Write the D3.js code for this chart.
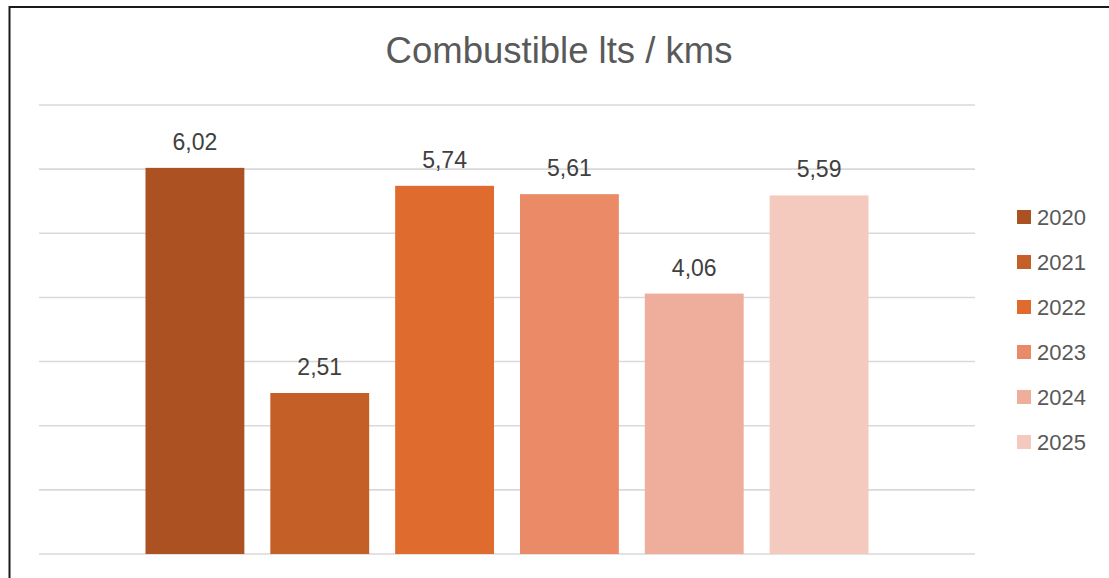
<!DOCTYPE html>
<html>
<head>
<meta charset="utf-8">
<script src="https://cdn.jsdelivr.net/npm/d3@7"></script>
<style>
  html, body { margin: 0; padding: 0; background: #fff; }
  svg { display: block; font-family: "Liberation Sans", Arial, sans-serif; }
</style>
</head>
<body>
<div id="chart"></div>
<script>
// ======================= //
// DATA
// ======================= //
var years = ["2020", "2021", "2022", "2023", "2024", "2025"]
var values = [6.02, 2.51, 5.74, 5.61, 4.06, 5.59]
var colors = ["#AC5122", "#C55F28", "#DF6B2F", "#EB8A67", "#EFAE9B", "#F4CABE"]
var yTicks = [0, 1, 2, 3, 4, 5, 6, 7]
var title = "Combustible lts / kms"

// ======================= //
// SVG AREA
// ======================= //
var W = 1109, H = 578
var plot = {left: 39, right: 975, top: 105, bottom: 554}

var svg = d3.select("#chart")
  .append("svg")
    .attr("width", W)
    .attr("height", H)

// chart frame (only top and left edges are inside the picture)
svg.append("rect")
  .attr("x", 9.5).attr("y", 7)
  .attr("width", W + 20).attr("height", H + 20)
  .style("fill", "white")
  .style("stroke", "#1a1a1a")
  .style("stroke-width", 2)

// ======================= //
// SCALES
// ======================= //
var x = d3.scaleBand()
  .domain(years)
  .range([plot.left, plot.right])
  .paddingInner(0.208)
  .paddingOuter(0.853)

var y = d3.scaleLinear()
  .domain([0, 7])
  .range([plot.bottom, plot.top])

// gridlines
svg.append("g")
  .selectAll("line")
  .data(yTicks)
  .enter()
  .append("line")
    .attr("x1", plot.left)
    .attr("x2", plot.right)
    .attr("y1", function(d){ return y(d) })
    .attr("y2", function(d){ return y(d) })
    .style("stroke", "#D9D9D9")
    .style("stroke-width", 1.6)

// title
svg.append("text")
  .attr("x", 559)
  .attr("y", 63)
  .attr("text-anchor", "middle")
  .style("font-size", "36.5px")
  .style("fill", "#595959")
  .text(title)

// ======================= //
// BARS
// ======================= //
var data = years.map(function(d, i){ return {year: d, value: values[i], color: colors[i]} })

svg.append("g")
  .selectAll("rect")
  .data(data)
  .enter()
  .append("rect")
    .attr("x", function(d){ return x(d.year) })
    .attr("y", function(d){ return y(d.value) })
    .attr("width", x.bandwidth())
    .attr("height", function(d){ return y(0) - y(d.value) })
    .style("fill", function(d){ return d.color })

// data labels
svg.append("g")
  .selectAll("text")
  .data(data)
  .enter()
  .append("text")
    .attr("x", function(d){ return x(d.year) + x.bandwidth() / 2 })
    .attr("y", function(d){ return y(d.value) - 18 })
    .attr("text-anchor", "middle")
    .style("font-size", "23px")
    .style("fill", "#404040")
    .text(function(d){ return d3.format(".2f")(d.value).replace(".", ",") })

// ======================= //
// LEGEND
// ======================= //
var legend = svg.append("g")
  .selectAll("g")
  .data(data)
  .enter()
  .append("g")
    .attr("transform", function(d, i){ return "translate(1017," + (210 + i * 45) + ")" })

legend.append("rect")
  .attr("width", 14)
  .attr("height", 14)
  .style("fill", function(d){ return d.color })

legend.append("text")
  .attr("x", 20)
  .attr("y", 15)
  .style("font-size", "22px")
  .style("fill", "#595959")
  .text(function(d){ return d.year })
</script>
</body>
</html>
